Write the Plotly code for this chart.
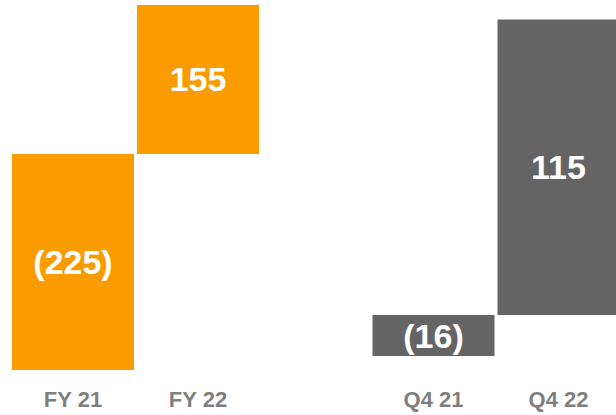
import plotly.graph_objects as go

fy_categories = ["FY 21", "FY 22"]
fy_values = [-225, 155]
fy_labels = ["(225)", "155"]

q_categories = ["Q4 21", "Q4 22"]
q_values = [-16, 115]
q_labels = ["(16)", "115"]

ORANGE = "#FA9B00"
GREY = "#646464"
FONT = "Liberation Sans, Arial"

fig = go.Figure()
fig.add_trace(go.Bar(
    x=fy_categories, y=fy_values, text=fy_labels, texttemplate="%{text}",
    textposition="inside", insidetextanchor="middle",
    marker=dict(color=ORANGE, line=dict(width=0)),
    xaxis="x", yaxis="y", showlegend=False, hoverinfo="skip",
))
fig.add_trace(go.Bar(
    x=q_categories, y=q_values, text=q_labels, texttemplate="%{text}",
    textposition="inside", insidetextanchor="middle",
    marker=dict(color=GREY, line=dict(width=0)),
    xaxis="x2", yaxis="y2", showlegend=False, hoverinfo="skip",
))
fig.update_traces(textfont=dict(family=FONT, size=34, color="white", weight="bold"),
                  textangle=0, constraintext="none")

tickfont = dict(family=FONT, size=22, color="#7F7F7F", weight="bold")
fig.update_layout(
    width=616, height=415,
    margin=dict(l=0, r=0, t=0, b=35),
    paper_bgcolor="white", plot_bgcolor="white",
    bargap=0.024,
    xaxis=dict(domain=[10.5 / 616, 260.5 / 616], range=[-0.5, 1.5],
               showgrid=False, zeroline=False, showline=False, ticks="",
               ticklabelstandoff=4,
               tickfont=tickfont, fixedrange=True),
    yaxis=dict(range=[-235.4, 160.2], visible=False, showgrid=False, zeroline=False),
    xaxis2=dict(domain=[371 / 616, 1.0], range=[-0.5, 1.46], anchor="y2",
                showgrid=False, zeroline=False, showline=False, ticks="",
                ticklabelstandoff=4,
                tickfont=tickfont, fixedrange=True),
    yaxis2=dict(range=[-25.3, 122.6], visible=False, showgrid=False, zeroline=False,
                anchor="x2"),
)

fig.write_html("out.html", config={"displayModeBar": False, "staticPlot": True},
               post_script="document.body.style.margin='0';document.body.style.overflow='hidden';")
